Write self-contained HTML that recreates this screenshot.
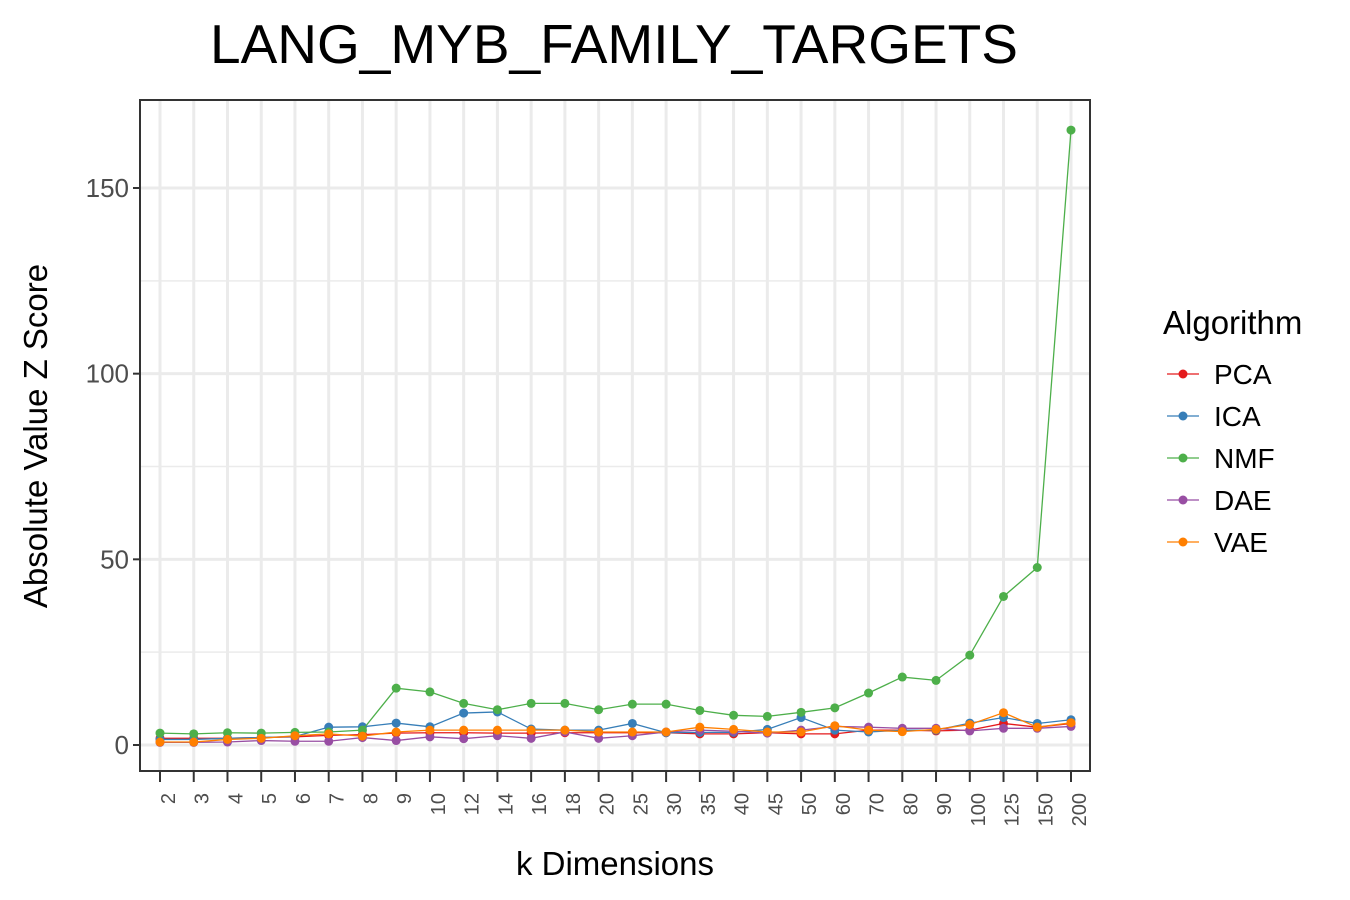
<!DOCTYPE html>
<html><head><meta charset="utf-8"><style>
body{margin:0;background:#fff;}
svg{display:block;font-family:"Liberation Sans",Arial,sans-serif;}
</style></head><body>
<svg id="chart" width="1350" height="900"></svg>
<script>
const categories=["2","3","4","5","6","7","8","9","10","12","14","16","18","20","25","30","35","40","45","50","60","70","80","90","100","125","150","200"];
const pcaValues=[1.8,1.8,1.8,2,2.2,2.6,2.8,3.2,3.3,3.3,3.2,3.2,3.3,3.3,3.3,3.3,3,3,3.3,3,3,4,4,3.8,4,5.8,4.8,5.8];
const icaValues=[1.5,1.5,1.8,2,2.3,4.8,4.9,5.9,4.9,8.6,8.9,4.3,4,4,5.8,3.3,3.4,3.4,4.2,7.4,4,3.5,4,4,5.9,7.4,5.8,6.8];
const nmfValues=[3.2,3,3.3,3.2,3.4,3.5,4,15.3,14.3,11.2,9.5,11.2,11.2,9.5,11,11,9.3,8,7.7,8.8,10,14,18.3,17.4,24.2,40,47.8,165.6];
const daeValues=[0.7,0.7,0.8,1.2,1,1,2,1.2,2.2,1.7,2.5,1.8,3.5,1.8,2.5,3.5,4,3.7,3.2,4,5,4.8,4.5,4.5,3.8,4.5,4.5,5];
const vaeValues=[0.8,0.8,1.5,1.8,2.5,3,2.4,3.5,4,4,4,4,4,3.5,3.5,3.5,4.8,4.2,3.5,3.5,5.2,4,3.6,4.2,5.5,8.7,4.8,6];
const yTicks=[0,50,100,150];
const yMinor=[25,75,125];
const seriesNames=["PCA","ICA","NMF","DAE","VAE"];
const seriesColors=["#e41a1c","#377eb8","#4daf4a","#984ea3","#ff7f00"];
const seriesData=[pcaValues,icaValues,nmfValues,daeValues,vaeValues];

const NS="http://www.w3.org/2000/svg";
const svg=document.getElementById('chart');
const L=140,R=1090,T=100,B=771;
const x0=160,x1=1071;
function xPos(i){return x0+i*(x1-x0)/(categories.length-1);}
function yPos(v){return 745-v*(745-188)/150;}
function mk(tag,attrs,parent){const e=document.createElementNS(NS,tag);for(const k in attrs)e.setAttribute(k,attrs[k]);(parent||svg).appendChild(e);return e;}

const title=mk('text',{x:614,y:63,'font-size':55,'text-anchor':'middle',fill:'#000'});
title.textContent='LANG_MYB_FAMILY_TARGETS';



const grid=mk('g',{});


yMinor.forEach(v=>mk('line',{x1:L,x2:R,y1:yPos(v),y2:yPos(v),stroke:'#ebebeb','stroke-width':1.5},grid));
yTicks.forEach(v=>mk('line',{x1:L,x2:R,y1:yPos(v),y2:yPos(v),stroke:'#ebebeb','stroke-width':3},grid));
categories.forEach((c,i)=>mk('line',{x1:xPos(i),x2:xPos(i),y1:T,y2:B,stroke:'#ebebeb','stroke-width':3},grid));

seriesData.forEach((vals,s)=>{
  const g=mk('g',{});
  
  
  mk('polyline',{points:vals.map((v,i)=>xPos(i)+','+yPos(v)).join(' '),fill:'none',stroke:seriesColors[s],'stroke-width':1.3},g);
  vals.forEach((v,i)=>{
    const c=mk('circle',{cx:xPos(i),cy:yPos(v),r:4.5,fill:seriesColors[s]},g);
    
    
  });
});

const border=mk('rect',{x:L,y:T,width:R-L,height:B-T,fill:'none',stroke:'#333','stroke-width':2});



const yAxis=mk('g',{});


yTicks.forEach(v=>{
  mk('line',{x1:L-7,x2:L,y1:yPos(v),y2:yPos(v),stroke:'#333','stroke-width':2},yAxis);
  const t=mk('text',{x:L-11,y:yPos(v)+9,'font-size':26,'text-anchor':'end',fill:'#4d4d4d'},yAxis);
  t.textContent=v;
});
const xAxis=mk('g',{});


categories.forEach((c,i)=>{
  mk('line',{x1:xPos(i),x2:xPos(i),y1:B,y2:B+11,stroke:'#333','stroke-width':2},xAxis);
  const t=mk('text',{x:0,y:0,'font-size':20,'text-anchor':'end',fill:'#4d4d4d',transform:`translate(${xPos(i)+15},${B+22}) rotate(-90)`},xAxis);
  t.textContent=c;
});
const xt=mk('text',{x:615,y:875,'font-size':33,'text-anchor':'middle',fill:'#000'});
xt.textContent='k Dimensions';


const yt=mk('text',{x:0,y:0,'font-size':33,'text-anchor':'middle',fill:'#000',transform:'translate(47,436) rotate(-90)'});
yt.textContent='Absolute Value Z Score';



const lg=mk('g',{});


const lt=mk('text',{x:1163,y:334,'font-size':33,fill:'#000'},lg);
lt.textContent='Algorithm';
seriesNames.forEach((n,s)=>{
  const y=374+s*42;
  const e=mk('g',{},lg);
  
  
  mk('line',{x1:1167,x2:1199,y1:y,y2:y,stroke:seriesColors[s],'stroke-width':1.3},e);
  mk('circle',{cx:1183,cy:y,r:4.5,fill:seriesColors[s]},e);
  const t=mk('text',{x:1214,y:y+10,'font-size':28,fill:'#000'},e);
  t.textContent=n;
});
</script>
</body></html>
